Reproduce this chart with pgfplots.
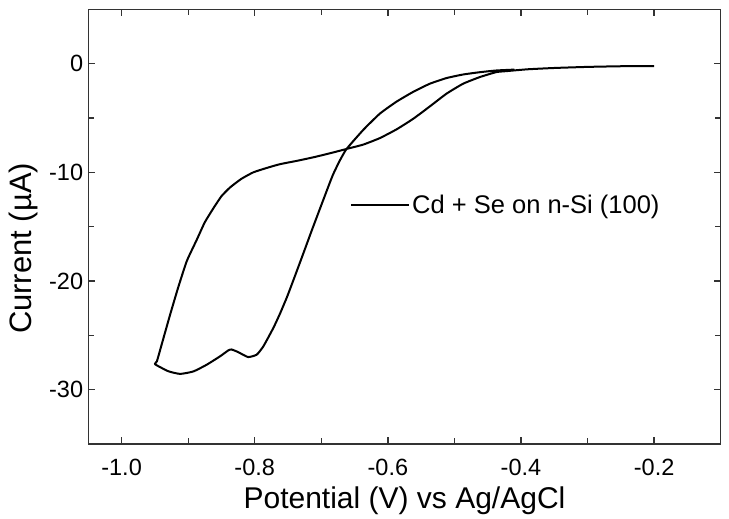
\documentclass[border=0pt]{standalone}
\usepackage{fontspec}
\setmainfont{Liberation Sans}
\usepackage{pgfplots}
\pgfplotsset{compat=1.18}
\begin{document}
\begin{tikzpicture}
\begin{axis}[
  name=ax, at={(0,0)}, anchor=south west,
  scale only axis, width=632.4pt, height=434.7pt,
  xmin=-1.05, xmax=-0.1, ymin=-35, ymax=5,
  xtick={-1.0,-0.8,-0.6,-0.4,-0.2},
  minor xtick={-0.9,-0.7,-0.5,-0.3},
  ytick={-30,-20,-10,0},
  minor ytick={-25,-15,-5},
  tick align=inside,
  major tick length=7pt, minor tick length=5.5pt,
  /pgf/number format/assume math mode=true,
  xticklabel style={/pgf/number format/fixed, /pgf/number format/fixed zerofill, /pgf/number format/precision=1,
    anchor=north, inner sep=0pt, yshift=-15pt, font=\fontsize{23.5}{28}\selectfont},
  yticklabel style={anchor=east, inner sep=0pt, xshift=-5pt, font=\fontsize{23.5}{28}\selectfont},
  axis line style={line width=1.3pt, black!80},
  every tick/.style={line width=1.3pt, black!80},
  xlabel={Potential (V) vs Ag/AgCl},
  ylabel={Current (µA)},
  xlabel style={at={(axis description cs:0.5,0)}, anchor=base, yshift=-65pt, font=\fontsize{30}{36}\selectfont},
  ylabel style={at={(axis description cs:-0.103,0.45)}, anchor=center, font=\fontsize{31}{36}\selectfont},
  legend style={at={(0.4138,0.5498)}, anchor=west, draw=none, fill=none, inner sep=0pt,
    font=\fontsize{25.5}{30}\selectfont, /tikz/every even column/.append style={column sep=7pt}},
  legend image code/.code={\draw[#1] (0pt,0pt) -- (58pt,0pt);},
]
\addplot[black, line width=2pt, line join=round, smooth, tension=0.3] table {
x y
-0.200 -0.22
-0.250 -0.24
-0.300 -0.30
-0.350 -0.40
-0.390 -0.52
-0.420 -0.68
-0.437 -0.78
-0.462 -1.24
-0.487 -1.85
-0.512 -2.77
-0.537 -3.94
-0.562 -5.08
-0.587 -6.05
-0.612 -6.85
-0.637 -7.45
-0.662 -7.85
-0.687 -8.25
-0.712 -8.62
-0.737 -8.95
-0.762 -9.25
-0.782 -9.60
-0.802 -10.00
-0.820 -10.60
-0.837 -11.39
-0.850 -12.20
-0.862 -13.30
-0.875 -14.60
-0.887 -16.20
-0.902 -18.16
-0.915 -20.60
-0.927 -23.08
-0.937 -25.24
-0.947 -27.40
-0.950 -27.65
-0.930 -28.30
-0.912 -28.55
-0.892 -28.32
-0.872 -27.70
-0.852 -26.93
-0.840 -26.40
-0.835 -26.30
-0.825 -26.54
-0.810 -27.00
-0.797 -26.78
-0.787 -26.01
-0.772 -24.32
-0.762 -23.00
-0.752 -21.55
-0.7445 -20.35
-0.729 -17.80
-0.714 -15.30
-0.698 -12.70
-0.683 -10.30
-0.672 -8.90
-0.662 -7.85
-0.637 -6.10
-0.612 -4.60
-0.587 -3.50
-0.562 -2.60
-0.537 -1.85
-0.512 -1.33
-0.487 -1.00
-0.462 -0.79
-0.437 -0.63
-0.410 -0.55
};
\addlegendentry{Cd + Se on n-Si (100)}
\end{axis}
\pgfresetboundingbox
\useasboundingbox (-88.3pt,-75pt) rectangle (640.7pt,444pt);
\end{tikzpicture}
\end{document}
